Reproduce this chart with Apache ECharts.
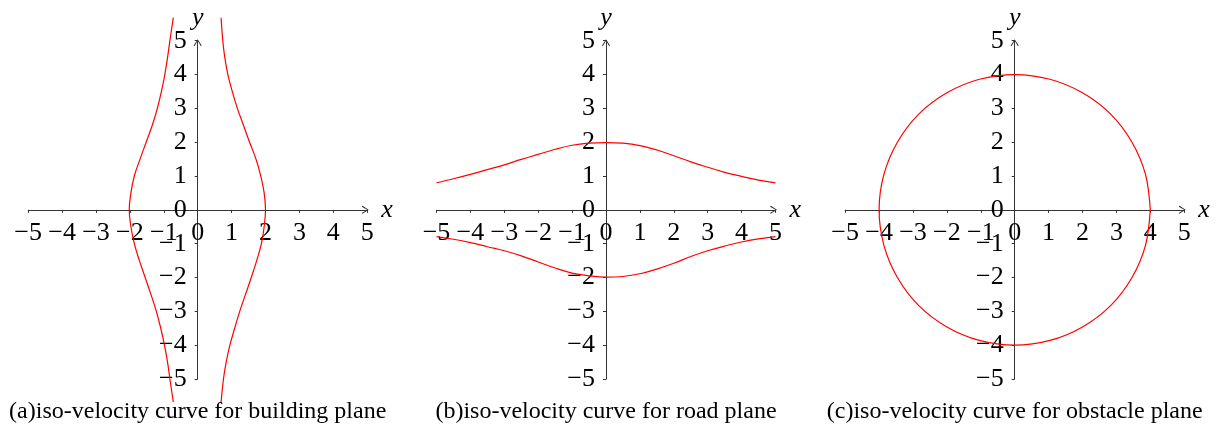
<!DOCTYPE html>
<html>
<head>
<meta charset="utf-8">
<script src="https://cdn.jsdelivr.net/npm/echarts@6/dist/echarts.min.js"></script>
<style>
  html, body { margin: 0; padding: 0; background: #fff; }
  #chart { width: 1226px; height: 426px; }
</style>
</head>
<body>
<div id="chart"></div>
<script>
// Tick values shared by every axis (-5 … 5)
const tickValues = [-5, -4, -3, -2, -1, 0, 1, 2, 3, 4, 5];

const captions = [
  '(a)iso-velocity curve for building plane',
  '(b)iso-velocity curve for road plane',
  '(c)iso-velocity curve for obstacle plane'
];

// (a) building plane: two branches, x given at each height y
const buildingY      = [5.68, 5, 4.5, 4, 3.5, 3, 2.5, 2, 1.5, 1, 0.5, 0, -0.5, -1, -1.5, -2, -2.5, -3, -3.5, -4, -4.5, -5, -5.68];
const buildingLeftX  = [-0.72, -0.82, -0.89, -0.97, -1.07, -1.19, -1.34, -1.52, -1.70, -1.87, -1.97, -2.02, -1.97, -1.87, -1.72, -1.55, -1.38, -1.22, -1.09, -0.98, -0.89, -0.82, -0.72];
const buildingRightX = [0.69, 0.74, 0.80, 0.89, 1.02, 1.17, 1.35, 1.53, 1.72, 1.86, 1.96, 2.00, 1.96, 1.88, 1.74, 1.58, 1.41, 1.24, 1.09, 0.95, 0.84, 0.76, 0.69];

// (b) road plane: upper and lower branches over x
const roadX     = [-5, -4.5, -4, -3.5, -3, -2.5, -2, -1.5, -1, -0.5, 0, 0.5, 1, 1.5, 2, 2.5, 3, 3.5, 4, 4.5, 5];
const roadUpper = [0.80, 0.92, 1.05, 1.19, 1.33, 1.49, 1.64, 1.79, 1.91, 1.97, 1.99, 1.97, 1.90, 1.77, 1.60, 1.42, 1.26, 1.11, 0.99, 0.88, 0.80];
const roadLower = [-0.79, -0.87, -0.97, -1.09, -1.21, -1.36, -1.54, -1.72, -1.87, -1.95, -1.99, -1.97, -1.89, -1.75, -1.58, -1.38, -1.21, -1.07, -0.95, -0.86, -0.79];

// (c) obstacle plane: closed curve of radius 4, points every 15 degrees
const obstacleX = [4.00, 3.86, 3.46, 2.83, 2.00, 1.04, 0.00, -1.04, -2.00, -2.83, -3.46, -3.86, -4.00, -3.86, -3.46, -2.83, -2.00, -1.04, 0.00, 1.04, 2.00, 2.83, 3.46, 3.86, 4.00];
const obstacleY = [0.00, 1.04, 2.00, 2.83, 3.46, 3.86, 4.00, 3.86, 3.46, 2.83, 2.00, 1.04, 0.00, -1.04, -2.00, -2.83, -3.46, -3.86, -4.00, -3.86, -3.46, -2.83, -2.00, -1.04, 0.00];

// ---- layout ----
const panelLefts = [28.2, 436.5, 845.2];
const panelWidth = 339;
const panelTop = 40.7;
const panelHeight = 338.3;
const captionY = 412;

const serif = '"Liberation Serif", "DejaVu Serif", serif';
const axisColor = '#333';
const curveColor = '#ff0000';
const chevron = 'path://M4,0 L8,6.2 L7.2,7 L4,1.6 L0.8,7 L0,6.2 Z';

const fmt = v => (v < 0 ? '\u2212' + Math.abs(v) : String(v));

function pairs(xs, ys) { return xs.map((x, i) => [x, ys[i]]); }

// Axes cross at the origin: each axis is pulled from the grid edge to its centre
// (the value range is symmetric, so the centre is the zero line).
function axis(idx, dim) {
  const horizontal = dim === 'x';
  return {
    type: 'value',
    gridIndex: idx,
    position: horizontal ? 'bottom' : 'left',
    offset: horizontal ? -panelHeight / 2 : -panelWidth / 2,
    min: tickValues[0],
    max: tickValues[tickValues.length - 1],
    interval: 1,
    name: dim,
    nameLocation: 'end',
    nameGap: horizontal ? 14 : 10,
    nameMoveOverlap: false,
    nameTextStyle: { fontFamily: serif, fontStyle: 'italic', fontSize: 26, color: '#000' },
    axisLine: {
      show: true,
      onZero: false,
      symbol: ['none', chevron],
      symbolSize: [8, 7],
      symbolOffset: [0, -2],
      lineStyle: { color: axisColor, width: 1 }
    },
    axisTick: { show: true, length: 3, lineStyle: { color: axisColor, width: 1 } },
    axisLabel: {
      show: true,
      formatter: fmt,
      fontFamily: serif,
      fontSize: 26,
      color: '#000',
      margin: horizontal ? 10 : 11,
      showMinLabel: true,
      showMaxLabel: true
    },
    splitLine: { show: false }
  };
}

function curve(idx, data, smooth) {
  return {
    type: 'line',
    xAxisIndex: idx,
    yAxisIndex: idx,
    data: data,
    smooth: smooth,
    showSymbol: false,
    clip: false,
    silent: true,
    lineStyle: { color: curveColor, width: 1.2 }
  };
}

const chart = echarts.init(document.getElementById('chart'), null, { renderer: 'canvas' });

chart.setOption({
  animation: false,
  backgroundColor: '#fff',
  grid: panelLefts.map(l => ({
    left: l, top: panelTop, width: panelWidth, height: panelHeight,
    containLabel: false, outerBoundsMode: 'none'
  })),
  xAxis: [0, 1, 2].map(i => axis(i, 'x')),
  yAxis: [0, 1, 2].map(i => axis(i, 'y')),
  series: [
    curve(0, pairs(buildingLeftX, buildingY), 0.4),
    curve(0, pairs(buildingRightX, buildingY), 0.4),
    curve(1, pairs(roadX, roadUpper), 0.4),
    curve(1, pairs(roadX, roadLower), 0.4),
    curve(2, pairs(obstacleX, obstacleY), 0.34)
  ],
  graphic: captions.map((t, i) => ({
    type: 'text',
    x: panelLefts[i] + panelWidth / 2,
    y: captionY,
    style: {
      text: t,
      font: '24px ' + serif,
      fill: '#000',
      align: 'center',
      verticalAlign: 'middle'
    }
  }))
});
</script>
</body>
</html>
